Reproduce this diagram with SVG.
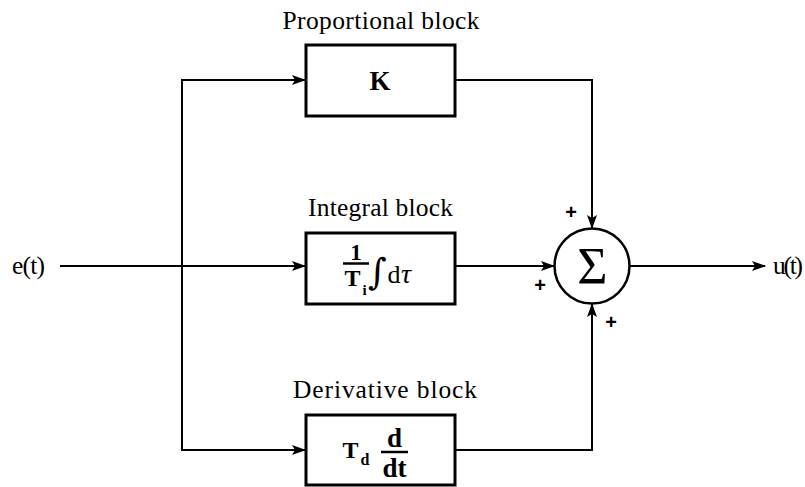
<svg xmlns="http://www.w3.org/2000/svg" width="805" height="487" viewBox="0 0 805 487">
<style>
.box{fill:#fff;stroke:#000;stroke-width:3}
.ln{fill:none;stroke:#000;stroke-width:2}
.lbl{font-family:"Liberation Serif","DejaVu Serif",serif;font-size:25.5px;fill:#000}
.m{font-family:"Liberation Serif","DejaVu Serif",serif;fill:#000;font-weight:bold}
.pl{font-family:"Liberation Sans","DejaVu Sans",sans-serif;font-size:20px;font-weight:bold;fill:#000}
</style>
<defs>
<marker id="ah" markerWidth="14" markerHeight="10" refX="13" refY="5" orient="auto" markerUnits="userSpaceOnUse">
<path d="M0,0 L14,5 L0,10 L3,5 Z" fill="#000"/>
</marker>
</defs>
<g id="connectors">
<line class="ln" x1="60" y1="266" x2="305" y2="266" marker-end="url(#ah)"/>
<polyline class="ln" points="305,80 182,80 182,450 305,450"/>
<line class="ln" x1="182" y1="80" x2="305" y2="80" marker-end="url(#ah)"/>
<line class="ln" x1="182" y1="450" x2="305" y2="450" marker-end="url(#ah)"/>
<polyline class="ln" points="455,80 592,80 592,228" marker-end="url(#ah)"/>
<line class="ln" x1="455" y1="266" x2="554" y2="266" marker-end="url(#ah)"/>
<polyline class="ln" points="455,450 592,450 592,304" marker-end="url(#ah)"/>
<line class="ln" x1="630" y1="266" x2="765" y2="266" marker-end="url(#ah)"/>
</g>
<g id="input"><text class="lbl" x="12" y="274" font-size="26" textLength="33">e(t)</text></g>
<g id="output"><text class="lbl" x="773" y="274" font-size="25" textLength="30">u(t)</text></g>
<g id="proportional">
<text class="lbl" x="381" y="29" text-anchor="middle" textLength="197">Proportional block</text>
<rect class="box" x="306" y="45" width="149" height="71"/>
<text class="m" x="380" y="90" font-size="27" text-anchor="middle">K</text>
</g>
<g id="integral">
<text class="lbl" x="380.5" y="216" text-anchor="middle" textLength="145">Integral block</text>
<rect class="box" x="306" y="233" width="149" height="71"/>
<text class="m" x="356" y="259.5" font-size="23" text-anchor="middle">1</text>
<line x1="343" y1="263.5" x2="369" y2="263.5" stroke="#000" stroke-width="2.5"/>
<text class="m" x="352.5" y="286" font-size="24" text-anchor="middle">T</text>
<text class="m" x="364.5" y="295" font-size="15" text-anchor="middle">i</text>
<text x="377.5" y="284" font-family="DejaVu Serif,serif" font-size="36" text-anchor="middle" fill="#000">∫</text>
<text x="387.5" y="283" font-family="Liberation Serif,DejaVu Serif,serif" font-size="26" fill="#000">d</text>
<text x="401" y="283" font-family="Liberation Serif,DejaVu Serif,serif" font-size="28" font-style="italic" fill="#000">τ</text>
</g>
<g id="derivative">
<text class="lbl" x="385" y="398" text-anchor="middle" textLength="184">Derivative block</text>
<rect class="box" x="306" y="415" width="149" height="70"/>
<text class="m" x="350.5" y="457.5" font-size="24" text-anchor="middle">T</text>
<text class="m" x="365" y="465" font-size="16" text-anchor="middle">d</text>
<text class="m" x="394.5" y="447" font-size="27" text-anchor="middle">d</text>
<line x1="381" y1="452" x2="408" y2="452" stroke="#000" stroke-width="2.5"/>
<text class="m" x="394.5" y="477" font-size="27" text-anchor="middle">dt</text>
</g>
<g id="sum">
<circle cx="592" cy="266" r="37.5" fill="#fff" stroke="#000" stroke-width="2.5"/>
<text x="592.5" y="284" font-family="Liberation Serif,DejaVu Serif,serif" font-size="52" text-anchor="middle">Σ</text>
<text class="pl" x="571" y="219" text-anchor="middle">+</text>
<text class="pl" x="540" y="292" text-anchor="middle">+</text>
<text class="pl" x="611" y="329" text-anchor="middle">+</text>
</g>
</svg>
